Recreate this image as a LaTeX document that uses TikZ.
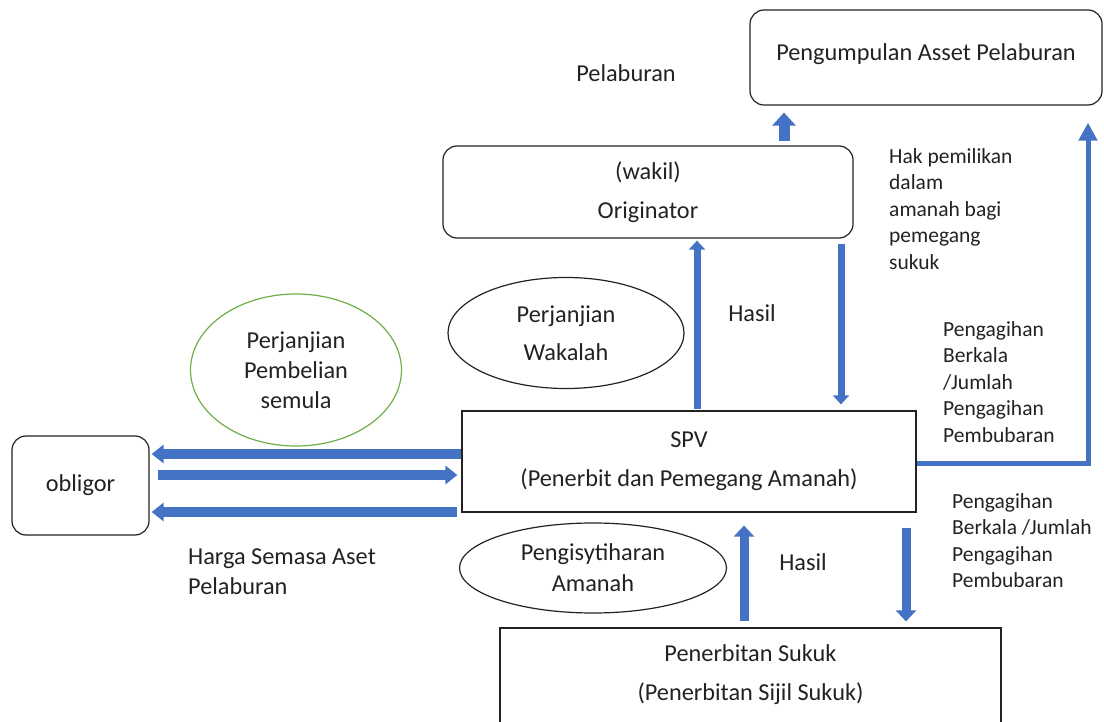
\documentclass[tikz,border=0pt]{standalone}
\usepackage{fontspec}
\setmainfont{Carlito}
\usetikzlibrary{arrows.meta,shapes.geometric}
\definecolor{flow}{HTML}{4472C4}
\definecolor{leaf}{HTML}{70AD47}
\definecolor{ink}{HTML}{222222}

\begin{document}
\begin{tikzpicture}[x=1pt,y=-1pt,
  every node/.style={text=ink},
  rbox/.style={draw=ink, line width=1.2pt, rounded corners=14pt, inner sep=0pt, align=center},
  sbox/.style={draw=ink, line width=1.2pt, inner sep=0pt, align=center},
  oval/.style={draw=ink, line width=1.2pt, ellipse, inner sep=0pt, align=center},
  big/.style={font=\fontsize{24.3}{39}\selectfont},
  note/.style={font=\fontsize{21.5}{26.5}\selectfont, align=left, inner sep=0pt, anchor=north west},
  flowarrow/.style={draw=flow, line width=#1},
  tipA/.style={-{Triangle[width=18pt,length=12pt]}},
  tipB/.style={-{Triangle[width=16pt,length=9pt]}},
  tipC/.style={-{Triangle[width=20pt,length=11pt]}},
  tipD/.style={-{Triangle[width=23pt,length=13pt]}},
  tipE/.style={-{Triangle[width=18pt,length=18pt]}}
]
\useasboundingbox (0,0) rectangle (1104,722);
\clip (0,0) rectangle (1104,722);

% boxes
\node[rbox, big, minimum width=352pt, minimum height=95pt] (pool) at (926,57.5) {};
\node[big, inner sep=0pt] (pooltxt) at (pool.center |- 0,54) {Pengumpulan Asset Pelaburan};
\node[rbox, big, minimum width=410pt, minimum height=92pt] (orig) at (648,192) {(wakil)\\Originator};
\node[sbox, big, minimum width=454pt, minimum height=101pt] (spv) at (689,461.5) {SPV\\(Penerbit dan Pemegang Amanah)};
\node[rbox, big, minimum width=137pt, minimum height=99pt] (obl) at (80.5,485.5) {obligor};
\node[sbox, minimum width=501pt, minimum height=112pt] (issue) at (750.5,684) {};
\node[big, align=center, inner sep=0pt] (issuetxt) at (750.5,675) {Penerbitan Sukuk\\(Penerbitan Sijil Sukuk)};

% ellipses
\node[oval, big, font=\fontsize{24.3}{38}\selectfont, minimum width=236pt, minimum height=111pt] (wak) at (566,333) {Perjanjian\\Wakalah};
\node[oval, draw=leaf, font=\fontsize{24.3}{30}\selectfont, minimum width=211pt, minimum height=152pt] (buy) at (296,370) {Perjanjian\\Pembelian\\semula};
\node[oval, font=\fontsize{24.3}{31}\selectfont, minimum width=267pt, minimum height=90pt] (decl) at (593,568) {Pengisytiharan\\Amanah};

% free labels
\node[big] (lblinv) at (626,73) {Pelaburan};
\node[big] (lblhasil1) at (752,313) {Hasil};
\node[big] (lblhasil2) at (803,562) {Hasil};
\node[note] (lblhak) at (889,148) {Hak pemilikan\\dalam\\amanah bagi\\pemegang\\sukuk};
\node[note] (lbldist1) at (943,321) {Pengagihan\\Berkala\\/Jumlah\\Pengagihan\\Pembubaran};
\node[note] (lbldist2) at (952,493) {Pengagihan\\Berkala /Jumlah\\Pengagihan\\Pembubaran};
\node[note, font=\fontsize{24.3}{30}\selectfont] (lblprice) at (188,549) {Harga Semasa Aset\\Pelaburan};

% x positions of the vertical arrows
\coordinate (xa) at (784,0);
\coordinate (xb) at (697,0);
\coordinate (xc) at (841,0);
\coordinate (xd) at (1088,0);
\coordinate (xe) at (744,0);
\coordinate (xf) at (906,0);
% y positions of the horizontal arrows
\coordinate (ya) at (0,454);
\coordinate (yb) at (0,475);
\coordinate (yc) at (0,512);
\coordinate (yd) at (0,463);

% originator to pool
\draw[flowarrow=11pt, tipD] ([yshift=4pt]orig.north -| xa) -- ([yshift=-7pt]pool.south -| xa);
% originator <-> spv
\draw[flowarrow=7pt, tipB] ([yshift=1pt]spv.north -| xb) -- ([yshift=-2pt]orig.south -| xb);
\draw[flowarrow=7pt, tipB] ([yshift=-5pt]orig.south -| xc) -- ([yshift=6pt]spv.north -| xc);
% spv to pool
\draw[flowarrow=5pt, tipE] (spv.east |- yd) -- (xd |- yd) -- ([yshift=-17pt]pool.south -| xd);
% spv <-> obligor
\draw[flowarrow=10pt, tipA] (spv.west |- ya) -- ([xshift=2pt]obl.east |- ya);
\draw[flowarrow=10pt, tipA] ([xshift=8pt]obl.east |- yb) -- ([xshift=-4pt]spv.west |- yb);
\draw[flowarrow=10pt, tipA] ([xshift=-4pt]spv.west |- yc) -- ([xshift=2pt]obl.east |- yc);
% spv <-> sukuk issue
\draw[flowarrow=9pt, tipC] ([yshift=6pt]issue.north -| xe) -- ([yshift=-13pt]spv.south -| xe);
\draw[flowarrow=9pt, tipC] ([yshift=-15pt]spv.south -| xf) -- ([yshift=6pt]issue.north -| xf);
\end{tikzpicture}
\end{document}
